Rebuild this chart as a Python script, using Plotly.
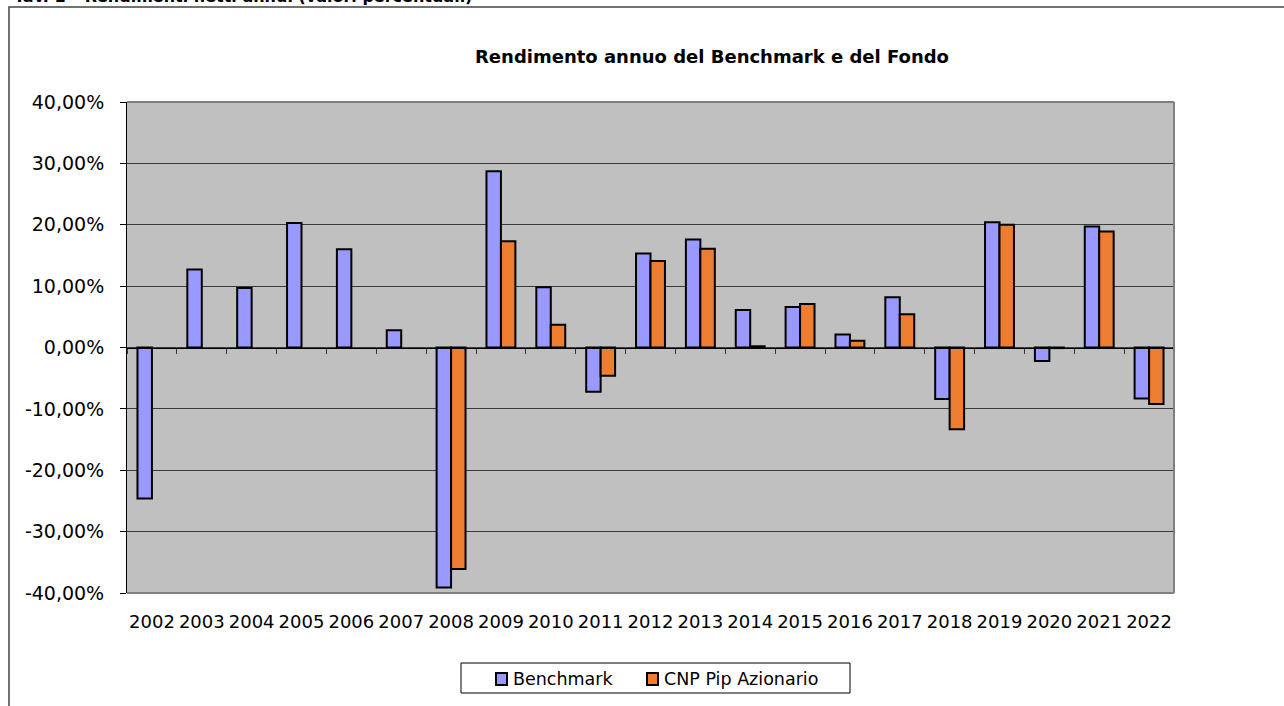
import plotly.graph_objects as go

years = [str(y) for y in range(2002, 2023)]
benchmark = [-24.6, 12.7, 9.7, 20.3, 16.0, 2.8, -39.1, 28.7, 9.8, -7.2, 15.3,
             17.6, 6.1, 6.6, 2.1, 8.2, -8.4, 20.4, -2.2, 19.7, -8.3]
fondo = [None, None, None, None, None, None, -36.1, 17.3, 3.7, -4.6, 14.1,
         16.1, 0.2, 7.1, 1.1, 5.4, -13.3, 20.0, -0.1, 18.9, -9.2]
series_names = ["Benchmark", "CNP Pip Azionario"]
series_colors = ["#9999FF", "#ED7D31"]
y_tick_vals = [-40, -30, -20, -10, 0, 10, 20, 30, 40]
y_tick_text = ["-40,00%", "-30,00%", "-20,00%", "-10,00%", "0,00%",
               "10,00%", "20,00%", "30,00%", "40,00%"]

W, H = 1284, 706
L, R, T, B = 127, 1174, 102, 593
PW, PH = R - L, B - T


def px(x):
    return (x - L) / PW


def py(y):
    return (B - y) / PH


FONT = "DejaVu Sans"

fig = go.Figure()
for vals, name, col in zip([benchmark, fondo], series_names, series_colors):
    fig.add_trace(go.Bar(
        x=years, y=vals, name=name,
        marker=dict(color=col, line=dict(color="black", width=2)),
    ))

fig.update_layout(
    width=W, height=H,
    margin=dict(l=L, r=W - R, t=T, b=H - B, pad=0),
    paper_bgcolor="white",
    plot_bgcolor="#C0C0C0",
    barmode="group",
    bargap=0.42,
    bargroupgap=0,
    font=dict(family=FONT, size=18, color="black"),
    showlegend=False,
    xaxis=dict(
        type="category",
        showgrid=False,
        zeroline=False,
        showline=False,
        ticks="",
        tickfont=dict(family=FONT, size=18, color="black"),
        ticklabelstandoff=16,
    ),
    xaxis2=dict(
        overlaying="x",
        anchor="free",
        position=0.5,
        side="bottom",
        range=[-0.5, 20.5],
        tick0=-0.5, dtick=1,
        ticks="outside", ticklen=5, tickcolor="#333333", tickwidth=1,
        showticklabels=False,
        showgrid=False,
        zeroline=False,
        showline=True, linecolor="black", linewidth=1,
    ),
    yaxis=dict(
        range=[-40, 40],
        tickvals=y_tick_vals,
        ticktext=y_tick_text,
        showgrid=True, gridcolor="#3a3a3a", gridwidth=1,
        zeroline=False,
        showline=True, linecolor="black", linewidth=1,
        ticks="outside", ticklen=6, tickcolor="black",
        tickfont=dict(family=FONT, size=19, color="black"),
        ticklabelstandoff=12,
    ),
)

# invisible helper trace so the zero-line category axis (tick marks) is drawn
fig.add_trace(go.Scatter(x=[-0.5, 20.5], y=[0, 0], xaxis="x2", mode="lines",
                         line=dict(width=0), showlegend=False, hoverinfo="skip"))

# plot-area border on top/right/bottom (grey)
for x0, x1, y0, y1 in [(0, 1, 1, 1), (1, 1, 0, 1), (0, 1, 0, 0)]:
    fig.add_shape(type="line", xref="paper", yref="paper",
                  x0=x0, x1=x1, y0=y0, y1=y1,
                  line=dict(color="#808080", width=2))

# outer chart frame (extends beyond the page)
fig.add_shape(type="rect", xref="paper", yref="paper",
              x0=px(9), x1=px(1400), y0=py(7), y1=py(760),
              line=dict(color="#444444", width=1.5), layer="below")

# chart title
fig.add_annotation(
    text="<b>Rendimento annuo del Benchmark e del Fondo</b>",
    xref="paper", yref="paper", x=px(711.5), y=py(56),
    xanchor="center", yanchor="middle", showarrow=False,
    font=dict(family=FONT, size=18, color="black"),
)

# page header, cut by the top edge (as in the reference)
fig.add_annotation(
    text="<b>Tav. 1 – Rendimenti netti annui (valori percentuali)</b>",
    xref="paper", yref="paper", x=px(12), y=py(8),
    xanchor="left", yanchor="bottom", showarrow=False,
    font=dict(family=FONT, size=16, color="black"),
)

# legend box
fig.add_shape(type="rect", xref="paper", yref="paper",
              x0=px(461), x1=px(850), y0=py(663), y1=py(693),
              line=dict(color="black", width=1), fillcolor="white")
legend_swatch_x = [496, 647]
for sx, name, col in zip(legend_swatch_x, series_names, series_colors):
    fig.add_shape(type="rect", xref="paper", yref="paper",
                  x0=px(sx), x1=px(sx + 11), y0=py(673), y1=py(685),
                  line=dict(color="black", width=2), fillcolor=col)
    fig.add_annotation(
        text=name, xref="paper", yref="paper", x=px(sx + 15), y=py(679),
        xanchor="left", yanchor="middle", showarrow=False,
        font=dict(family=FONT, size=17.5, color="black"),
    )

fig.write_html("out.html",
               config={"displayModeBar": False},
               post_script="document.body.style.margin='0px';")
